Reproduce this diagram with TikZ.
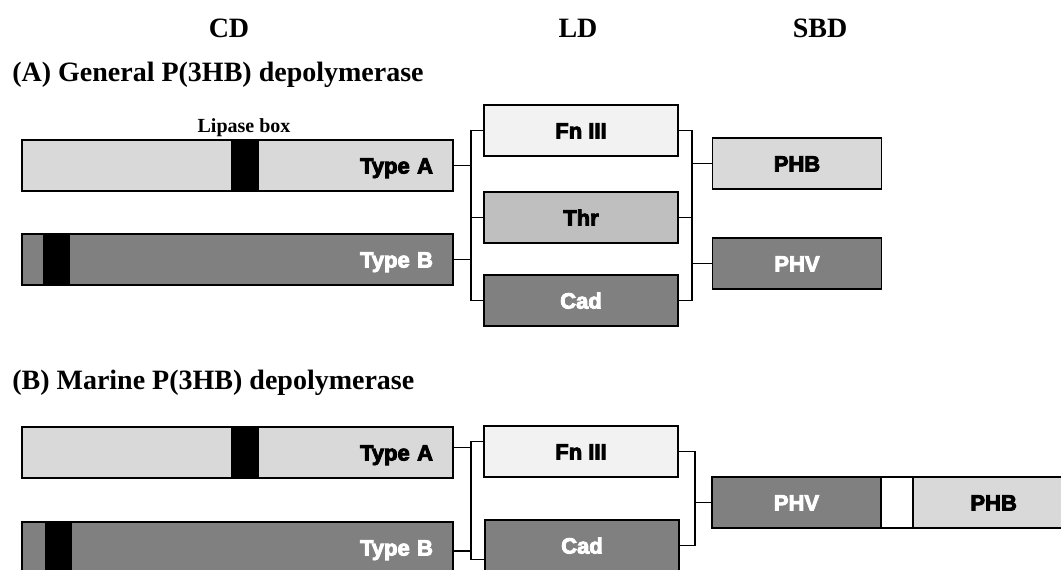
\documentclass[tikz,border=0pt]{standalone}
\usepackage{fontspec}
\setmainfont{Liberation Serif}
\newfontfamily\boxfont{Liberation Sans}[BoldFeatures={FakeBold=4}]
\definecolor{dompale}{HTML}{F2F2F2}
\definecolor{domlight}{HTML}{D9D9D9}
\definecolor{dommid}{HTML}{BFBFBF}
\definecolor{domdark}{HTML}{808080}

\begin{document}
\begin{tikzpicture}[x=0.75pt, y=-0.75pt,
    head/.style={inner sep=0pt, font=\bfseries\fontsize{21}{24}\selectfont},
    domfont/.style={font=\boxfont\bfseries\fontsize{16.5}{18}\selectfont},
    dom/.style={draw, rectangle, line width=1.2pt, inner sep=0pt,
      minimum height=38.25pt, text height=12pt, text depth=0pt, domfont},
    bar/.style={dom, inner xsep=15pt, text width=293.25pt, align=right},
    ldbox/.style={dom, minimum width=145.5pt},
    sbdbox/.style={dom, minimum width=126.75pt},
    lip/.style={draw, fill=black, rectangle, line width=1.2pt, inner sep=0pt,
      minimum width=19.5pt, minimum height=38.25pt},
    link/.style={line width=1pt}
  ]
    \useasboundingbox (0,0) rectangle (1061,569);
    \clip (0,0) rectangle (1061,569);

    \node[head] (cd) at (229,28) {CD};
    \node[head] (ld) at (578,28) {LD};
    \node[head] (sbd) at (820,28) {SBD};
    \node[head, anchor=west] (titleA) at (12,75) {(A) General P(3HB) depolymerase};
    \node[head, anchor=west] (titleB) at (12,383) {(B) Marine P(3HB) depolymerase};

    % (A) general
    \node[bar, fill=domlight] (typeA1) at (237.5,165.5) {Type A};
    \node[lip] (lipA1) at (245,165.5) {};
    \node[anchor=base, inner sep=0pt, font=\bfseries\fontsize{15}{18}\selectfont]
      (lipname) at (244,132) {Lipase box};
    \node[bar, fill=domdark, text=white] (typeB1) at (237.5,259.5) {Type B};
    \node[lip] (lipB1) at (56.5,259.5) {};

    \node[ldbox, fill=dompale] (fnA) at (581,130.5) {Fn III};
    \node[ldbox, fill=dommid] (thrA) at (581,217.5) {Thr};
    \node[ldbox, fill=domdark, text=white] (cadA) at (581,300.5) {Cad};

    \node[sbdbox, fill=domlight] (phbA) at (797,163.5) {PHB};
    \node[sbdbox, fill=domdark, text=white] (phvA) at (797,263.5) {PHV};

    \coordinate (busA1) at (471,0);
    \coordinate (busA2) at (692,0);
    \draw[link] (fnA.west) -- (fnA.west -| busA1) |- (cadA.west);
    \draw[link] (thrA.west) -- (thrA.west -| busA1);
    \draw[link] (typeA1.east) -- (typeA1.east -| busA1);
    \draw[link] (typeB1.east) -- (typeB1.east -| busA1);
    \draw[link] (fnA.east) -- (fnA.east -| busA2) |- (cadA.east);
    \draw[link] (thrA.east) -- (thrA.east -| busA2);
    \draw[link] (phbA.west) -- (phbA.west -| busA2);
    \draw[link] (phvA.west) -- (phvA.west -| busA2);

    % (B) marine
    \node[bar, fill=domlight] (typeA2) at (237.5,452.5) {Type A};
    \node[lip] (lipA2) at (245,452.5) {};
    \node[bar, fill=domdark, text=white] (typeB2) at (237.5,547.5) {Type B};
    \node[lip] (lipB2) at (58.5,547.5) {};

    \node[ldbox, fill=dompale] (fnB) at (581,451.5) {Fn III};
    \node[ldbox, fill=domdark, text=white] (cadB) at (582,545.5) {Cad};

    \node[sbdbox, fill=domdark, text=white] (phvB) at (796.5,502.5) {PHV};
    \node[dom, fill=white, minimum width=24pt] (gapB) at (897,502.5) {};
    \node[dom, fill=domlight, minimum width=135pt,
      label={[domfont, inner sep=0pt, text height=12pt, text depth=0pt, xshift=-7pt]center:PHB}]
      (phbB) at (1003,502.5) {};

    \coordinate (busB1) at (471,0);
    \coordinate (busB2) at (695,0);
    \draw[link] ([yshift=7.5pt]fnB.west) -- ([yshift=7.5pt]fnB.west -| busB1)
      |- ([yshift=-10.5pt]cadB.west);
    \draw[link] ([yshift=4pt]typeA2.east) -- ([yshift=4pt]typeA2.east -| busB1);
    \draw[link] ([yshift=-2.5pt]typeB2.east) -- ([yshift=-2.5pt]typeB2.east -| busB1);
    \draw[link] (fnB.east) -- (fnB.east -| busB2) |- (cadB.east);
    \draw[link] (phvB.west) -- (phvB.west -| busB2);
  \end{tikzpicture}
\end{document}
